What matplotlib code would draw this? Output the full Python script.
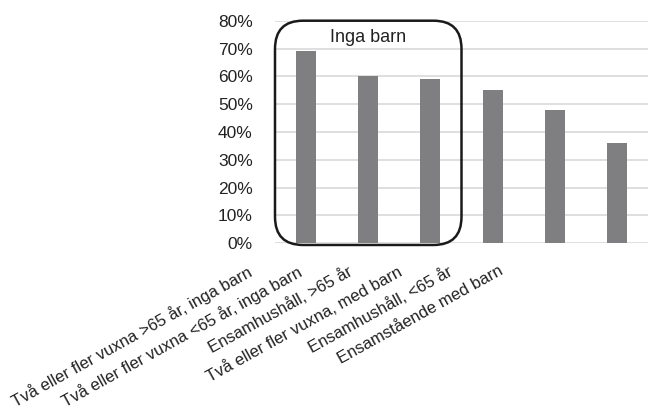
import numpy as np
import matplotlib.pyplot as plt
from matplotlib.patches import FancyBboxPatch

plt.rcParams['font.family'] = ['Liberation Sans', 'DejaVu Sans']

# -----------------
#  Data
# -----------------
categories = [
    'Två eller fler vuxna >65 år, inga barn',
    'Två eller fler vuxna <65 år, inga barn',
    'Ensamhushåll, >65 år',
    'Två eller fler vuxna, med barn',
    'Ensamhushåll, <65 år',
    'Ensamstående med barn',
]
values = [69, 60, 59, 55, 48, 36]
yticks = [0, 10, 20, 30, 40, 50, 60, 70, 80]

fig = plt.figure(figsize=(6.49, 4.09), dpi=100)
ax = fig.add_axes([275 / 649, 1 - 243.3 / 409, 373 / 649, 222.6 / 409])

x = np.arange(len(categories))
ax.bar(x, values, width=0.32, color='#7f7f81', zorder=3)

ax.set_xlim(-0.5, len(categories) - 0.5)
ax.set_ylim(0, 80)
ax.set_yticks(yticks)
ax.set_yticklabels([f'{v}%' for v in yticks], fontsize=12.5, color='#222222')
ax.yaxis.grid(True, color='#d9d9d9', linewidth=1.2, zorder=0)
ax.tick_params(axis='y', length=0, pad=16)
ax.set_xticks([])

# kategoriernas etiketter (förskjutna som i originalet)
lab_pos = -0.96 + x * 0.81
for p, lab in zip(lab_pos, categories):
    ax.text(p, -7.2, lab, rotation=29, ha='right', va='top',
            rotation_mode='anchor', fontsize=12, color='#222222')

for s in ax.spines.values():
    s.set_visible(False)

# ruta runt "Inga barn"
box = FancyBboxPatch((-0.5, -0.6), 3.0, 80.6,
                     boxstyle='round,pad=0,rounding_size=0.45',
                     mutation_aspect=22.5, fill=False, edgecolor='#1a1a1a',
                     linewidth=1.8, zorder=4, clip_on=False,
                     transform=ax.transData)
ax.add_patch(box)
ax.text(1.0, 74, 'Inga barn', ha='center', va='center', fontsize=13,
        color='#222222', zorder=5)

fig.savefig('out.png', dpi=100)
